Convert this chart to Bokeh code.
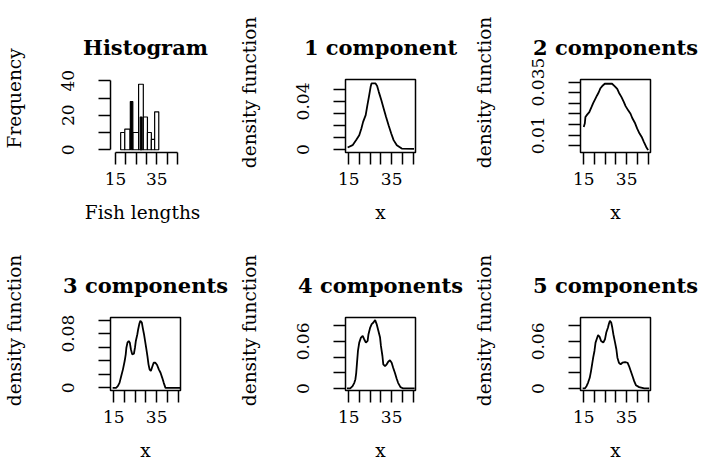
from bokeh.plotting import figure
from bokeh.layouts import column, row
from bokeh.models import FixedTicker, Range1d
from bokeh.embed import file_html
from bokeh.resources import INLINE

FONT = "DejaVu Serif"
NBSP = "\u00a0"

# ---------------- data ----------------
x_ticks_major = [15, 35]
x_ticks_minor = [20, 25, 30, 40, 45]

# Histogram of fish lengths
hist_left = [17.5, 19.5, 22.2, 23.5, 26.2, 27.0, 28.5, 30.5, 32.4, 34.0]
hist_right = [19.5, 22.0, 23.4, 26.2, 28.5, 27.9, 30.5, 32.4, 34.0, 36.0]
hist_count = [10, 12, 28, 10, 38, 19, 19, 10, 6, 22]
hist_y_major = [0, 20, 40]
hist_y_minor = [10, 30]

# 1 component
comp1_x = [14.5, 16.8, 18.4, 19.9, 20.9, 21.7, 22.9, 23.7, 24.4, 25.2, 25.6, 27.5,
           28.2, 29.0, 30.2, 31.3, 32.4, 33.6, 34.8, 35.9, 37.4, 39.7, 45.4]
comp1_y = [0.0017, 0.0036, 0.0078, 0.0119, 0.0175, 0.0230, 0.0286, 0.0369, 0.0439,
           0.0522, 0.0550, 0.0550, 0.0530, 0.0480, 0.0410, 0.0340, 0.0270, 0.0200,
           0.0133, 0.0078, 0.0036, 0.0008, 0.0006]
comp1_y_major = [0.0, 0.04]
comp1_y_minor = [0.01, 0.02, 0.03, 0.05]

# 2 components
comp2_x = [15.0, 15.5, 15.8, 16.6, 17.6, 18.6, 19.4, 20.4, 21.2, 22.0, 22.8, 23.9,
           24.8, 28.2, 29.5, 30.6, 31.4, 32.6, 33.7, 34.5, 35.7, 36.8, 37.6, 38.8,
           39.9, 41.0, 42.0, 43.0, 44.1, 45.0]
comp2_y = [0.0139, 0.0155, 0.0186, 0.0197, 0.0209, 0.0232, 0.0251, 0.0271, 0.0287,
           0.0302, 0.0321, 0.0334, 0.0342, 0.0342, 0.0330, 0.0318, 0.0300, 0.0279,
           0.0256, 0.0237, 0.0217, 0.0201, 0.0181, 0.0159, 0.0131, 0.0108, 0.0092,
           0.0069, 0.0045, 0.0030]
comp2_y_major = [0.010, 0.035]
comp2_y_minor = [0.005, 0.015, 0.020, 0.025, 0.030]

# 3 components
comp3_x = [14.5, 16.1, 16.9, 17.7, 18.5, 19.3, 20.1, 20.6, 20.9, 21.4, 22.0, 22.5,
           23.0, 23.6, 24.4, 24.9, 25.3, 26.0, 26.4, 26.9, 27.4, 28.1, 28.5, 29.1,
           29.6, 30.1, 30.7, 31.2, 31.7, 32.3, 32.8, 33.6, 34.4, 35.2, 36.0, 36.8,
           37.6, 38.3, 39.1, 40.0, 45.9]
comp3_y = [0.0, 0.0, 0.0025, 0.0074, 0.0174, 0.0273, 0.0396, 0.0495, 0.0593, 0.0668,
           0.0693, 0.0668, 0.0570, 0.0495, 0.0504, 0.0593, 0.0693, 0.0792, 0.0866,
           0.0941, 0.0990, 0.0964, 0.0890, 0.0792, 0.0693, 0.0593, 0.0470, 0.0347,
           0.0273, 0.0248, 0.0297, 0.0371, 0.0371, 0.0337, 0.0273, 0.0223, 0.0148,
           0.0074, 0.0, 0.0, 0.0]
comp3_y_major = [0.0, 0.08]
comp3_y_minor = [0.02, 0.04, 0.06, 0.10]

# 4 components
comp4_x = [14.2, 15.7, 16.8, 17.6, 18.1, 18.5, 18.8, 19.3, 19.9, 20.7, 21.5, 22.2,
           23.0, 23.8, 24.2, 25.0, 25.7, 26.5, 27.3, 28.0, 28.8, 29.6, 30.0, 30.7,
           31.1, 31.9, 32.7, 33.4, 34.2, 35.0, 35.7, 36.5, 37.3, 38.0, 39.1, 40.4, 45.7]
comp4_y = [0.0, 0.0, 0.0029, 0.0072, 0.0115, 0.0200, 0.0308, 0.0478, 0.0585, 0.0649,
           0.0670, 0.0628, 0.0585, 0.0606, 0.0692, 0.0777, 0.0821, 0.0841, 0.0872,
           0.0821, 0.0735, 0.0649, 0.0542, 0.0414, 0.0308, 0.0286, 0.0308, 0.0341,
           0.0359, 0.0328, 0.0264, 0.0200, 0.0128, 0.0072, 0.0017, 0.0, 0.0]
comp4_y_major = [0.0, 0.06]
comp4_y_minor = [0.02, 0.04, 0.08]

# 5 components
comp5_x = [14.5, 15.5, 16.3, 17.0, 17.8, 18.4, 18.9, 19.4, 20.0, 20.5, 21.3, 21.7,
           22.4, 23.1, 24.1, 24.9, 25.5, 26.3, 26.7, 27.2, 27.8, 28.3, 28.8, 29.6,
           30.2, 30.7, 31.4, 32.2, 33.0, 34.3, 35.4, 36.1, 36.9, 37.7, 38.5, 39.3,
           40.8, 43.2, 45.5]
comp5_y = [0.0, 0.0, 0.0029, 0.0072, 0.0136, 0.0222, 0.0308, 0.0393, 0.0478, 0.0585,
           0.0649, 0.0680, 0.0658, 0.0606, 0.0585, 0.0628, 0.0713, 0.0777, 0.0821,
           0.0863, 0.0841, 0.0777, 0.0692, 0.0585, 0.0500, 0.0393, 0.0328, 0.0308,
           0.0328, 0.0337, 0.0328, 0.0286, 0.0222, 0.0158, 0.0094, 0.0042, 0.0017,
           0.0, 0.0]
comp5_y_major = [0.0, 0.06]
comp5_y_minor = [0.02, 0.04, 0.08]

# ---------------- layout ----------------
COL_LEFT = [110, 109, 107]
COL_WIDTH = [235, 234, 235]
ROW_TOP = [79, 87]
ROW_HEIGHT = [230, 229]
FW, FH = 70, 73
DENS_X = (13.5, 46.1)


def make_panel(title, ci, ri, xr, yr, xlab, ylab, ylab_pad, y_major, y_minor, boxed):
    p = figure(frame_width=FW, frame_height=FH,
               min_border_left=COL_LEFT[ci],
               min_border_right=COL_WIDTH[ci] - COL_LEFT[ci] - FW,
               min_border_top=ROW_TOP[ri],
               min_border_bottom=ROW_HEIGHT[ri] - ROW_TOP[ri] - FH,
               x_range=Range1d(*xr), y_range=Range1d(*yr),
               output_backend="svg", toolbar_location=None, title=title)
    p.grid.visible = False
    p.background_fill_color = "white"
    p.border_fill_color = "white"
    p.outline_line_color = "black" if boxed else None
    p.outline_line_width = 1.5
    p.title.align = "center"
    p.title.text_font = FONT
    p.title.text_font_style = "bold"
    p.title.text_font_size = "21px"
    p.title.text_color = "black"
    p.title.standoff = 39
    p.xaxis.ticker = FixedTicker(ticks=x_ticks_major, minor_ticks=x_ticks_minor)
    p.yaxis.ticker = FixedTicker(ticks=y_major, minor_ticks=y_minor)
    for ax in (p.xaxis[0], p.yaxis[0]):
        ax.major_tick_in = 0
        ax.minor_tick_in = 0
        ax.major_tick_out = 12
        ax.minor_tick_out = 12
        ax.major_tick_line_width = 1.5
        ax.minor_tick_line_width = 1.5
        ax.major_tick_line_color = "black"
        ax.minor_tick_line_color = "black"
        ax.axis_line_width = 1.5
        ax.axis_line_color = "black" if not boxed else None
        ax.major_label_text_font = FONT
        ax.major_label_text_font_size = "17px"
        ax.major_label_text_color = "black"
        ax.axis_label_text_font = FONT
        ax.axis_label_text_font_size = "18.5px"
        ax.axis_label_text_font_style = "normal"
        ax.axis_label_text_color = "black"
    p.xaxis.axis_label = xlab
    # leading no-break spaces push the visible label upward along the axis, as in the original
    p.yaxis.axis_label = NBSP * ylab_pad + ylab
    p.yaxis.major_label_orientation = "vertical"
    p.yaxis.major_label_standoff = 24
    p.xaxis.major_label_standoff = 8
    p.yaxis.axis_label_standoff = 35
    p.xaxis.axis_label_standoff = 14
    return p


# Histogram panel
h = make_panel("Histogram", 0, 0, (12.57, 46.55), (-1.6, 40.75), "Fish  lengths", "Frequency", 6,
               hist_y_major, hist_y_minor, False)
h.xaxis.bounds = (15, 45)
h.yaxis.bounds = (0, 40)
h.quad(left=hist_left, right=hist_right, bottom=0, top=hist_count,
       fill_color=["black" if (r - l) < 1.5 else "white" for l, r in zip(hist_left, hist_right)],
       line_color="black", line_width=1.2)

panels = [h]
specs = [
    ("1 component", 1, 0, (-0.0025, 0.0583), comp1_x, comp1_y, comp1_y_major, comp1_y_minor),
    ("2 components", 2, 0, (0.0019, 0.0362), comp2_x, comp2_y, comp2_y_major, comp2_y_minor),
    ("3 components", 0, 1, (-0.0039, 0.1039), comp3_x, comp3_y, comp3_y_major, comp3_y_minor),
    ("4 components", 1, 1, (-0.0026, 0.0905), comp4_x, comp4_y, comp4_y_major, comp4_y_minor),
    ("5 components", 2, 1, (-0.0026, 0.0905), comp5_x, comp5_y, comp5_y_major, comp5_y_minor),
]
for title, ci, ri, yr, xs, ys, ymaj, ymin in specs:
    p = make_panel(title, ci, ri, DENS_X, yr, "x", "density function", 8, ymaj, ymin, True)
    p.line(xs, ys, line_color="black", line_width=1.8)
    panels.append(p)

layout = column(row(panels[0], panels[1], panels[2]), row(panels[3], panels[4], panels[5]))

open("out.html", "w").write(file_html(layout, INLINE))
